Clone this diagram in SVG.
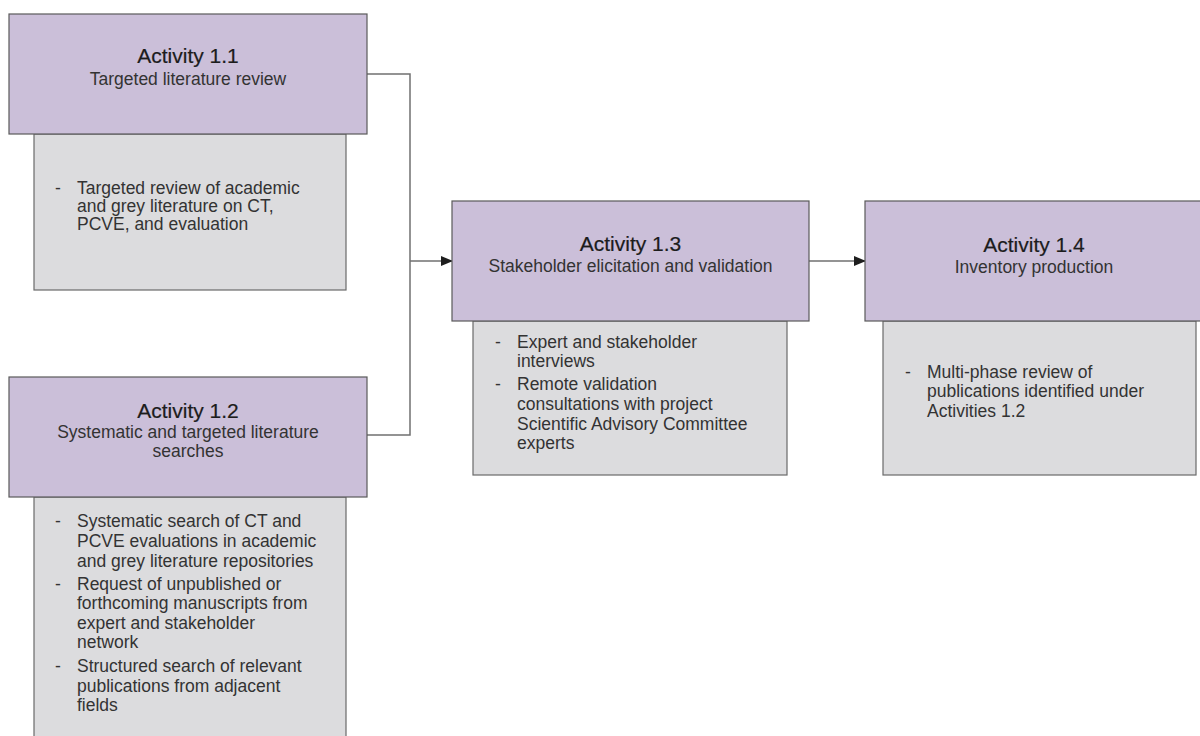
<svg xmlns="http://www.w3.org/2000/svg" width="1200" height="736" viewBox="0 0 1200 736">
<defs>
<marker id="arr" markerWidth="12" markerHeight="10" refX="11" refY="5" orient="auto" markerUnits="userSpaceOnUse">
<path d="M0,0 L12,5 L0,10 Z" fill="#1e1e1e"/>
</marker>
<style>
.head{fill:#cbbfd9;stroke:#5a5a5a;stroke-width:1.2}
.body{fill:#dcdcde;stroke:#6a6a6a;stroke-width:1.2}
.title{font-family:"Liberation Sans",Arial,sans-serif;font-size:21px;fill:#1c1c1c;stroke:#1c1c1c;stroke-width:0.2;text-anchor:middle}
.sub{font-family:"Liberation Sans",Arial,sans-serif;font-size:17.5px;fill:#333333;text-anchor:middle}
.txt{font-family:"Liberation Sans",Arial,sans-serif;font-size:17.5px;fill:#333333}
.conn{fill:none;stroke:#707070;stroke-width:1.5}
</style>
</defs>
<rect width="1200" height="736" fill="#ffffff"/>

<g id="connectors">
<polyline class="conn" points="367,74 410,74 410,435 367,435"/>
<line class="conn" x1="410" y1="261" x2="452" y2="261" marker-end="url(#arr)"/>
<line class="conn" x1="809" y1="261" x2="865" y2="261" marker-end="url(#arr)"/>
</g>

<g id="activity-1-1">
<rect class="body" x="34" y="134" width="312" height="156"/>
<rect class="head" x="9" y="14" width="358" height="120"/>
<text class="title" x="188" y="63">Activity 1.1</text>
<text class="sub" x="188" y="85">Targeted literature review</text>
<text class="txt" x="55" y="194">-</text>
<text class="txt" x="77" y="194">Targeted review of academic</text>
<text class="txt" x="77" y="212">and grey literature on CT,</text>
<text class="txt" x="77" y="230">PCVE, and evaluation</text>
</g>

<g id="activity-1-2">
<rect class="body" x="34" y="497" width="312" height="250"/>
<rect class="head" x="9" y="377" width="358" height="120"/>
<text class="title" x="188" y="418">Activity 1.2</text>
<text class="sub" x="188" y="438">Systematic and targeted literature</text>
<text class="sub" x="188" y="457">searches</text>
<text class="txt" x="55" y="527">-</text>
<text class="txt" x="77" y="527">Systematic search of CT and</text>
<text class="txt" x="77" y="547">PCVE evaluations in academic</text>
<text class="txt" x="77" y="567">and grey literature repositories</text>
<text class="txt" x="55" y="590">-</text>
<text class="txt" x="77" y="590">Request of unpublished or</text>
<text class="txt" x="77" y="609">forthcoming manuscripts from</text>
<text class="txt" x="77" y="629">expert and stakeholder</text>
<text class="txt" x="77" y="648">network</text>
<text class="txt" x="55" y="672">-</text>
<text class="txt" x="77" y="672">Structured search of relevant</text>
<text class="txt" x="77" y="692">publications from adjacent</text>
<text class="txt" x="77" y="711">fields</text>
</g>

<g id="activity-1-3">
<rect class="body" x="473" y="321" width="314" height="154"/>
<rect class="head" x="452" y="201" width="357" height="120"/>
<text class="title" x="630.5" y="251">Activity 1.3</text>
<text class="sub" x="630.5" y="272">Stakeholder elicitation and validation</text>
<text class="txt" x="495" y="348">-</text>
<text class="txt" x="517" y="348">Expert and stakeholder</text>
<text class="txt" x="517" y="367">interviews</text>
<text class="txt" x="495" y="390">-</text>
<text class="txt" x="517" y="390">Remote validation</text>
<text class="txt" x="517" y="410">consultations with project</text>
<text class="txt" x="517" y="430">Scientific Advisory Committee</text>
<text class="txt" x="517" y="449">experts</text>
</g>

<g id="activity-1-4">
<rect class="body" x="883" y="321" width="313" height="154"/>
<rect class="head" x="865" y="201" width="338" height="120"/>
<text class="title" x="1034" y="252">Activity 1.4</text>
<text class="sub" x="1034" y="273">Inventory production</text>
<text class="txt" x="905" y="378">-</text>
<text class="txt" x="927" y="378">Multi-phase review of</text>
<text class="txt" x="927" y="397">publications identified under</text>
<text class="txt" x="927" y="417">Activities 1.2</text>
</g>
</svg>
